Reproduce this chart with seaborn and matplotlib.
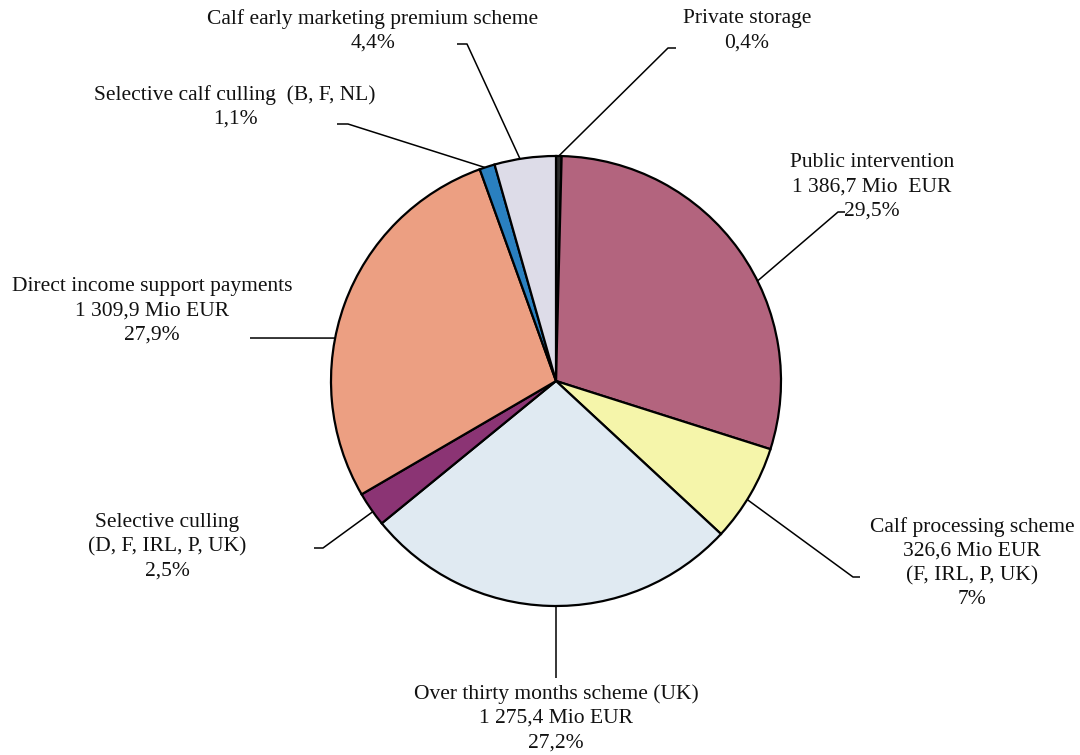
import numpy as np
import matplotlib
matplotlib.use("Agg")
import matplotlib.pyplot as plt
import seaborn as sns

# ---- data ----
categories = [
    "Private storage",
    "Public intervention",
    "Calf processing scheme",
    "Over thirty months scheme (UK)",
    "Selective culling",
    "Direct income support payments",
    "Selective calf culling",
    "Calf early marketing premium scheme",
]
shares = [0.4, 29.5, 7.0, 27.2, 2.5, 27.9, 1.1, 4.4]
label_texts = [
    "Private storage\n0,4%",
    "Public intervention\n1 386,7 Mio  EUR\n29,5%",
    "Calf processing scheme\n326,6 Mio EUR\n(F, IRL, P, UK)\n7%",
    "Over thirty months scheme (UK)\n1 275,4 Mio EUR\n27,2%",
    "Selective culling\n(D, F, IRL, P, UK)\n2,5%",
    "Direct income support payments\n1 309,9 Mio EUR\n27,9%",
    "Selective calf culling  (B, F, NL)\n1,1%",
    "Calf early marketing premium scheme\n4,4%",
]
colors = ["#2b2b2b", "#B3647E", "#F5F5AA", "#E0EAF2",
          "#8B3474", "#EC9F82", "#2A80C0", "#DDDCE8"]

# ---- layout (pixels in the 1080x755 canvas) ----
W, H = 1080, 755
CX, CY, R = 556, 381, 225
# label centre positions
label_pos = [(747, 31), (872, 187), (972, 563), (556, 718),
             (167, 547), (152, 311), (235, 107), (373, 31)]
# leader: anchor angle on rim (deg), elbow point, stub end
anchor_ang = [89.3, 26.4, -31.8, -90.0, -144.5, 169.0, 108.4, 99.2]
elbows = [(668, 48), (838, 212), (853, 577), (556, 678),
          (323, 548), (250, 338), (348, 124), (467, 44)]
stub_ends = [(676, 48), (845, 212), (860, 577), (556, 678),
             (314, 548), (250, 338), (337, 124), (457, 44)]


def px(x, y):
    return (x - CX) / R, (CY - y) / R


sns.set_theme(style="white")
plt.rcParams["font.family"] = ["Liberation Serif", "DejaVu Serif"]

fig = plt.figure(figsize=(W / 100, H / 100), dpi=100)
ax = fig.add_axes([0, 0, 1, 1])

ax.pie(shares, colors=colors, startangle=90, counterclock=False, radius=1,
       wedgeprops=dict(edgecolor="black", linewidth=1.6))

ax.set_xlim(-CX / R, (W - CX) / R)
ax.set_ylim(-(H - CY) / R, CY / R)
ax.set_aspect("equal")
ax.axis("off")

for txt, (lx, ly), ang, el, st in zip(label_texts, label_pos, anchor_ang,
                                      elbows, stub_ends):
    a = np.deg2rad(ang)
    ax0, ay0 = np.cos(a), np.sin(a)
    ex, ey = px(*el)
    sx, sy = px(*st)
    ax.plot([ax0, ex, sx], [ay0, ey, sy], color="black", lw=1.1,
            solid_capstyle="butt", zorder=0)
    tx, ty = px(lx, ly)
    ax.text(tx, ty, txt, ha="center", va="center", fontsize=15.5,
            linespacing=1.37, color="#111111")

fig.savefig("out.png", dpi=100)
